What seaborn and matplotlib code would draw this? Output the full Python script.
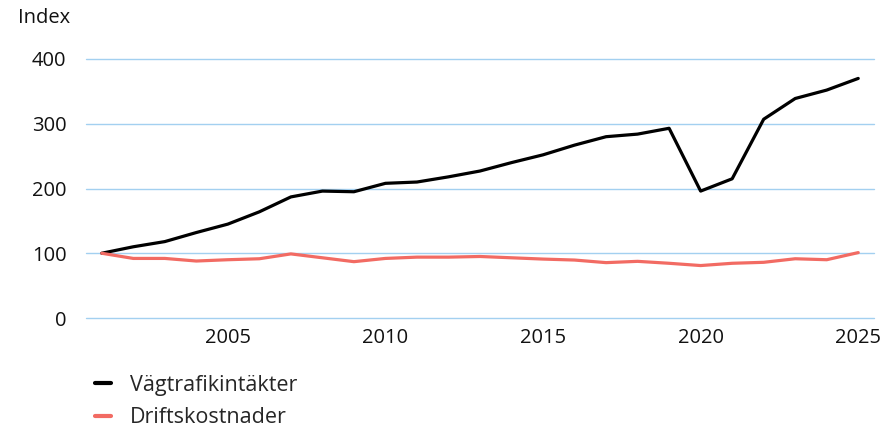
import matplotlib
matplotlib.use("Agg")
import matplotlib.pyplot as plt
import seaborn as sns
import pandas as pd

years = list(range(2001, 2026))
vagtrafik = [100, 110, 118, 132, 145, 164, 187, 196, 195, 208, 210, 218, 227, 240, 252,
             267, 280, 284, 293, 196, 215, 307, 339, 352, 370]
drift = [100, 92, 92, 88, 90, 91.5, 99, 93, 87, 92, 94, 94, 95, 93, 91,
         89.5, 85.5, 87.5, 84.5, 81, 84.5, 86, 91.5, 90, 101]
series_names = ["Vägtrafikintäkter", "Driftskostnader"]
colors = ["#000000", "#f26b63"]

df = pd.DataFrame({"År": years * 2,
                   "Index": vagtrafik + drift,
                   "Serie": [series_names[0]] * len(years) + [series_names[1]] * len(years)})

sns.set_theme(style="white")
plt.rcParams['font.family'] = ['Open Sans', 'DejaVu Sans']

fig = plt.figure(figsize=(8.88, 4.29), dpi=100)
ax = fig.add_axes([86/888, 1-318/429, (874-86)/888, (318-59)/429])

sns.lineplot(data=df, x="År", y="Index", hue="Serie", palette=colors,
             linewidth=2.3, ax=ax, legend=False, clip_on=False)

ax.set_xlim(2000.5, 2025.5)
ax.set_ylim(0, 400)
ax.set_yticks([0, 100, 200, 300, 400])
ax.set_xticks([2005, 2010, 2015, 2020, 2025])
ax.grid(axis="y", color="#a3d0f0", linewidth=1, clip_on=False)
ax.grid(axis="x", visible=False)
ax.set_axisbelow(True)
for s in ax.spines.values():
    s.set_visible(False)
ax.tick_params(axis="both", length=0, labelsize=14.5, colors="#111111")
ax.tick_params(axis="y", pad=14)
ax.tick_params(axis="x", pad=7)
ax.set_xlabel("")
ax.set_ylabel("")
fig.text(18/888, 1-18/429, "Index", fontsize=14.5, va="center", ha="left", color="#111111")

from matplotlib.lines import Line2D
handles = [Line2D([0], [0], color=c, linewidth=3) for c in colors]
fig.legend(handles, series_names, loc="upper left", bbox_to_anchor=(86/888, 1-366/429),
           frameon=False, fontsize=15.5, handlelength=0.75, handletextpad=0.9,
           labelspacing=0.55, borderaxespad=0)

fig.savefig("out.png", dpi=100)
